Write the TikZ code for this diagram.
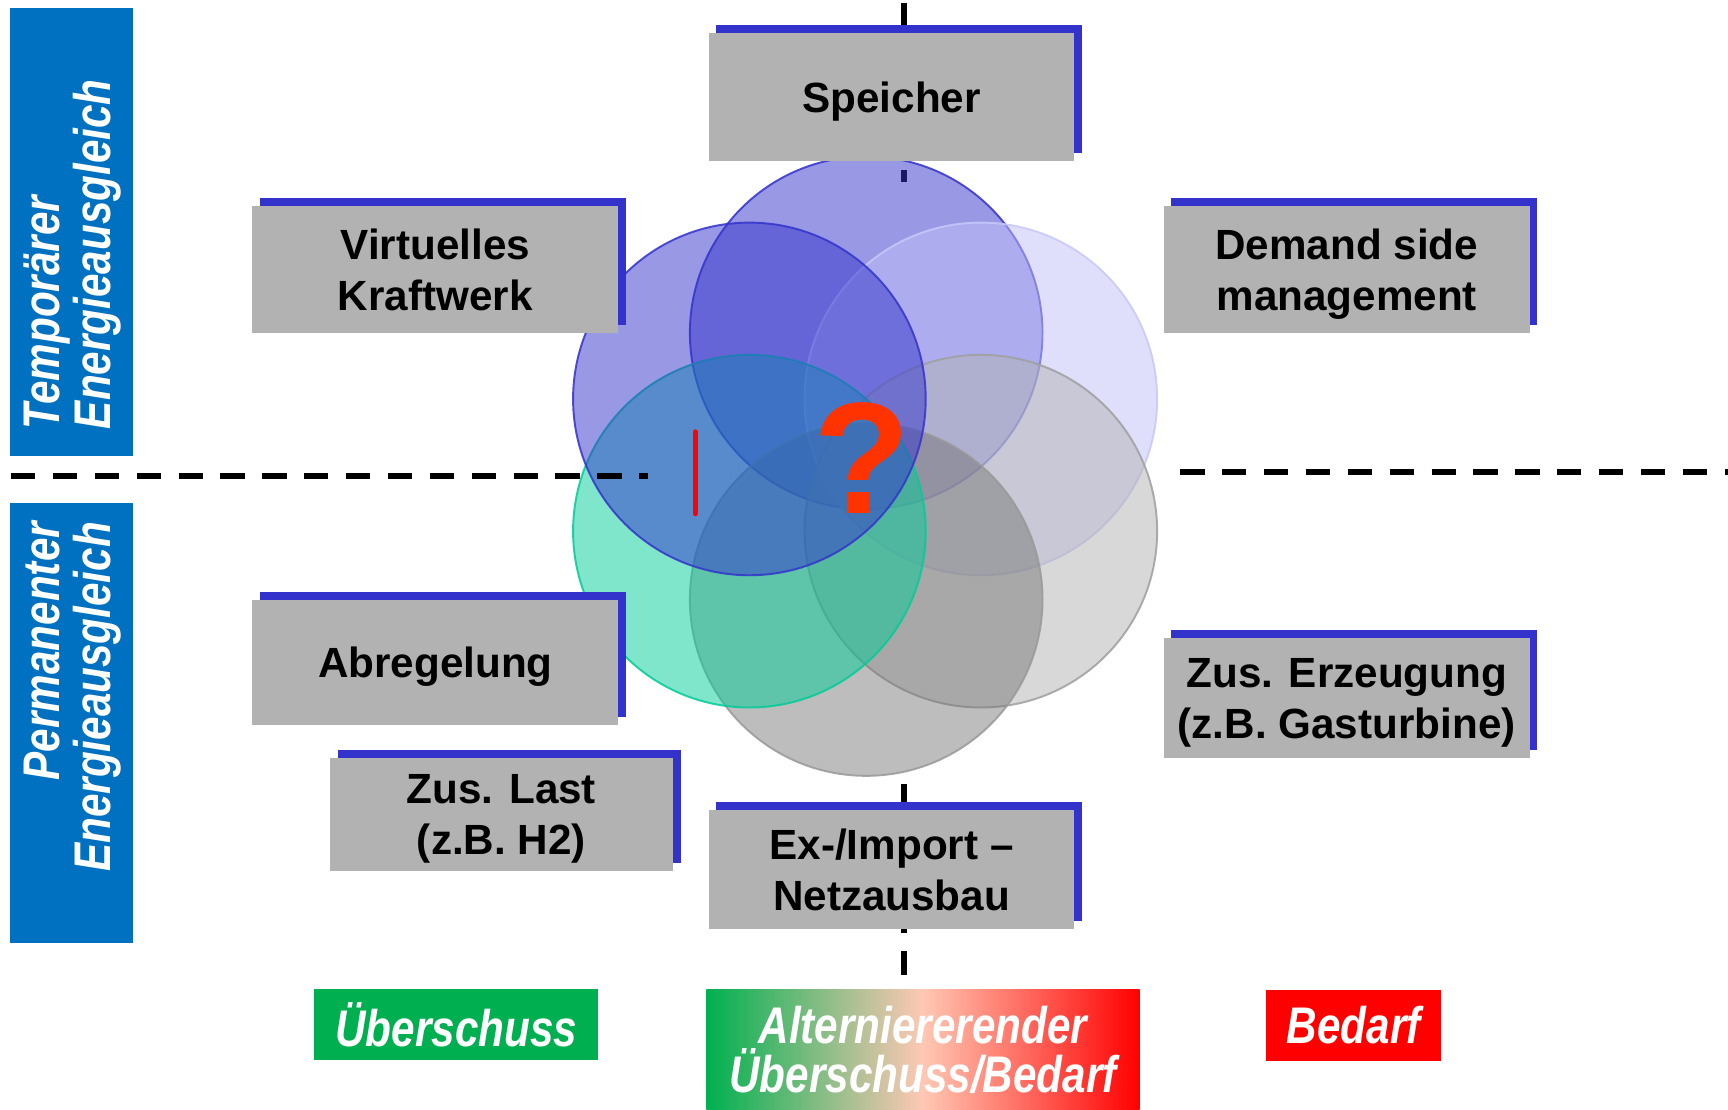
\documentclass[tikz,border=0pt]{standalone}
\usepackage{fontspec}
\setmainfont{Liberation Sans}
\newfontfamily\narrowsf[FakeStretch=0.82]{Liberation Sans}
\usepackage{tikz}
\usetikzlibrary{shadows}
\definecolor{barblue}{HTML}{0070C0}
\definecolor{boxgray}{HTML}{B2B2B2}
\definecolor{rimblue}{HTML}{3333CC}
\definecolor{lilac}{HTML}{C0C0F8}
\definecolor{lilacrim}{HTML}{C8C8FA}
\definecolor{mint}{HTML}{00CC99}
\definecolor{surplus}{HTML}{00B050}
\definecolor{peach}{HTML}{FFC8B4}
\definecolor{queryred}{HTML}{FF3300}
\newcommand\petal[4]{%
  \path[fill=#1, fill opacity=#3, draw=#2, draw opacity=0.85, line width=0.5pt]
    #4 circle[radius=1.6cm];}
\tikzset{
  divider/.style={black, line width=1.5pt, dash pattern=on 2.2mm off 1.6mm},
  panel/.style={fill=boxgray, inner sep=0pt, align=center, minimum width=3.32cm,
    text depth=0pt, font=\fontsize{10.9}{13.2}\selectfont\bfseries,
    general shadow={fill=rimblue, shadow xshift=0.7mm, shadow yshift=0.7mm}},
  sidebar/.style={fill=barblue, inner sep=0pt, minimum width=1.12cm},
  sidetext/.style={text=white, inner sep=0pt, rotate=90,
    font=\narrowsf\fontsize{13.3}{13.1}\selectfont\bfseries\itshape},
  tag/.style={text=white, align=center, inner sep=0pt,
    font=\narrowsf\fontsize{13.3}{12.8}\selectfont\bfseries\itshape},
}
\begin{document}
\begin{tikzpicture}[x=0.1mm, y=-0.1mm]
\useasboundingbox (0,0) rectangle (1568,1007);
\fill[white] (0,0) rectangle (1568,1007);
% vertical axis (lies under the circles)
\draw[divider] (820,2.5) -- (820,165);
\draw[divider] (820,711) -- (820,886);
% six circles, clockwise from the top
\petal{rimblue}{rimblue}{0.5}{(786,302)}
\petal{lilac}{lilacrim}{0.5}{(890,362)}
\petal{gray!60}{gray!75}{0.5}{(890,482)}
\petal{gray!110}{gray!80}{0.47}{(786,544)}
\petal{mint}{mint}{0.5}{(680,482)}
\petal{rimblue}{rimblue}{0.5}{(680,362)}
\draw[red, line width=1.4pt, line cap=round] (631,392) -- (631,466);
\node[text=queryred, inner sep=0pt, font=\fontsize{41}{41}\selectfont\bfseries]
  (query) at (782,416) {?};
% horizontal axis
\draw[divider] (10,432) -- (588,432);
\draw[divider] (1071,428) -- (1568,428);
% side bars
\node[sidebar, minimum height=4.07cm] (tempbar) at (65,210.5) {};
\node[sidebar, minimum height=4.00cm] (permbar) at (65,656) {};
\node[sidetext, anchor=west, align=left] (temptext) at (66,390)
  {Temporärer\\Energieausgleich};
\node[sidetext, anchor=east, align=right] (permtext) at (66,473)
  {Permanenter\\Energieausgleich};
% measures
\node[panel, minimum height=1.16cm] (speicher) at (809,88) {Speicher};
\node[panel, minimum height=1.15cm] (vkw) at (395,244.5) {Virtuelles\\Kraftwerk};
\node[panel, minimum height=1.15cm] (dsm) at (1222,244.5) {Demand side\\management};
\node[panel, minimum height=1.14cm] (abregelung) at (395,601) {Abregelung};
\node[panel, minimum width=3.11cm, minimum height=1.02cm] (zuslast) at (455,739)
  {Zus. Last\\(z.B. H2)};
\node[panel, minimum height=1.09cm] (zuserz) at (1222,633.5)
  {Zus. Erzeugung\\(z.B. Gasturbine)};
\node[panel, minimum height=1.08cm] (eximport) at (809,789)
  {Ex-/Import --\\Netzausbau};
% legend
\node[tag, fill=surplus, minimum width=2.58cm, minimum height=0.65cm] (ueber) at (414,929.5)
  {Überschuss};
\node[tag, left color=surplus, right color=red, middle color=peach,
  minimum width=3.93cm, minimum height=1.09cm] (wechsel) at (837.5,952.5)
  {Alterniererender\\Überschuss/Bedarf};
\node[tag, fill=red, minimum width=1.59cm, minimum height=0.65cm] (bedarf) at (1228.5,930.5)
  {Bedarf};
\end{tikzpicture}
\end{document}
